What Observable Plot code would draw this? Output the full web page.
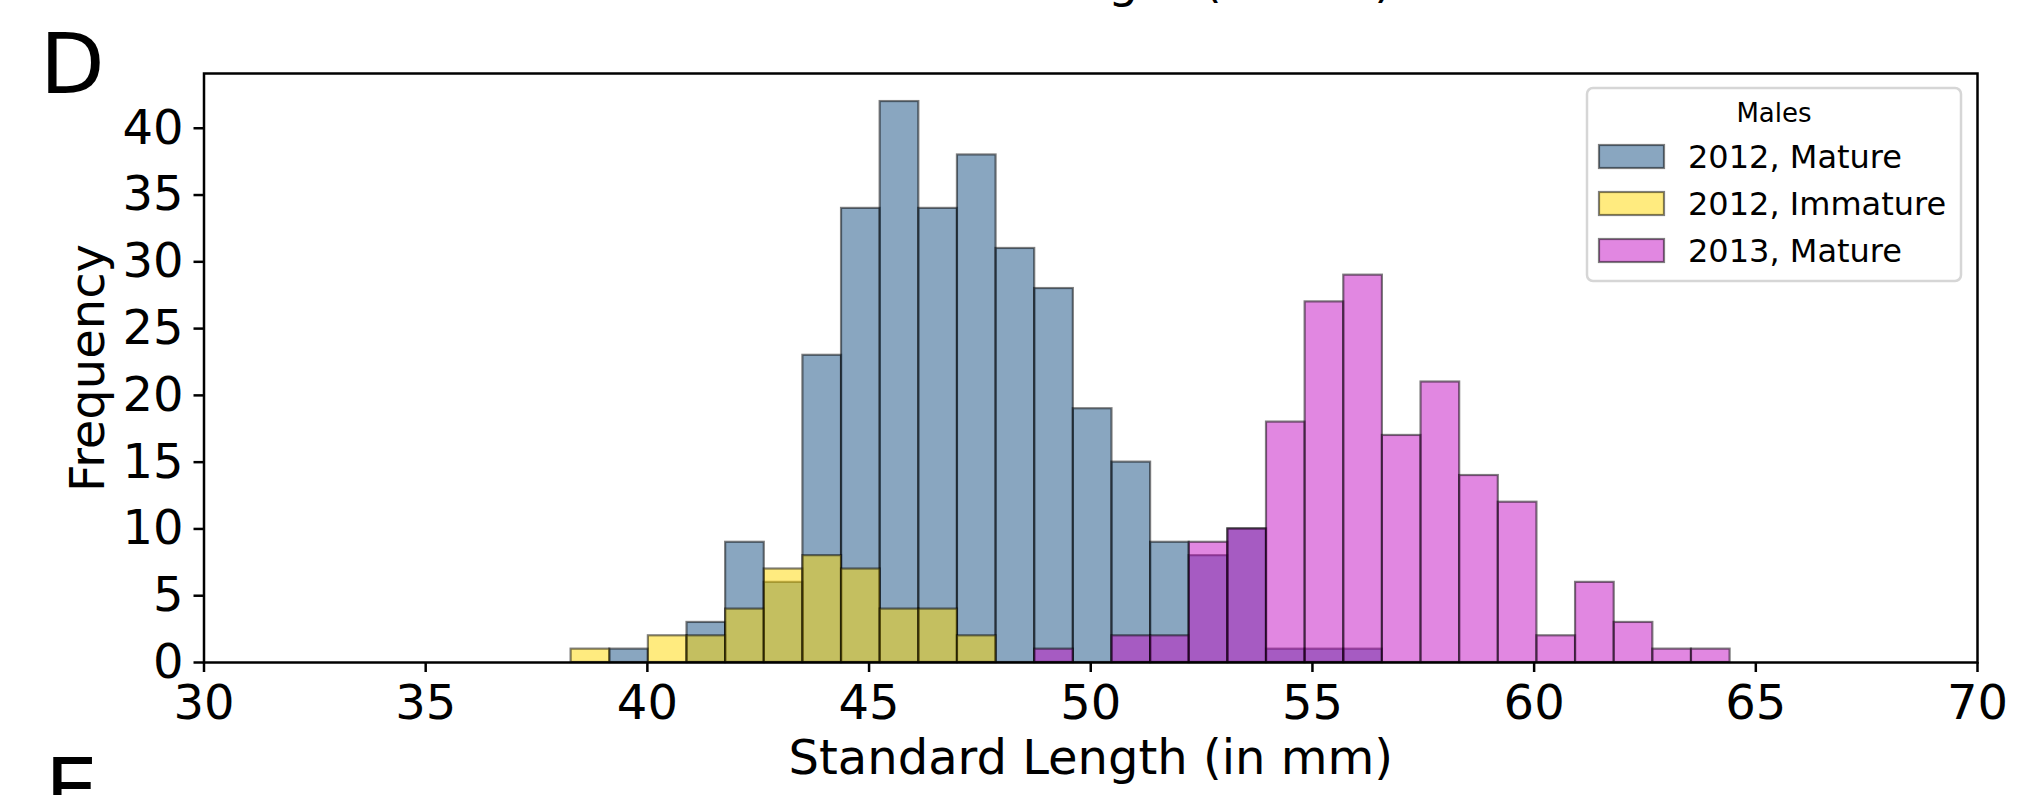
<!DOCTYPE html>
<html>
<head>
<meta charset="utf-8">
<script src="https://cdn.jsdelivr.net/npm/d3@7"></script>
<script src="https://cdn.jsdelivr.net/npm/@observablehq/plot@0.6"></script>
<style>
  html, body { margin: 0; padding: 0; background: #fff; overflow: hidden; }
  #chart svg { display: block; }
</style>
</head>
<body>
<div id="chart"></div>
<script>
// Shared histogram bins (standard length, mm)
const binStart = 38.28;
const binEnd = 64.42;
const binCount = 30;

// Counts per bin for each group of males
const mature2012   = [0,1,0,3,9,6,23,34,42,34,38,31,28,19,15,9,8,10,1,1,1,0,0,0,0,0,0,0,0,0];
const immature2012 = [1,0,2,2,4,7,8,7,4,4,2,0,0,0,0,0,0,0,0,0,0,0,0,0,0,0,0,0,0,0];
const mature2013   = [0,0,0,0,0,0,0,0,0,0,0,0,1,0,2,2,9,10,18,27,29,17,21,14,12,2,6,3,1,1];

const seriesNames  = ["2012, Mature", "2012, Immature", "2013, Mature"];
const seriesCounts = [mature2012, immature2012, mature2013];
const seriesColors = ["#134d82", "#ffd700", "#c30fc3"];

const xTicks = [30, 35, 40, 45, 50, 55, 60, 65, 70];
const yTicks = [0, 5, 10, 15, 20, 25, 30, 35, 40];

const legendTitle = "Males";
const xLabel = "Standard Length (in mm)";
const yLabel = "Frequency";
const panelLabel = "D";
const nextPanelLabel = "E";

const binWidth = (binEnd - binStart) / binCount;
const FONT = "DejaVu Sans, sans-serif";

const barMarks = seriesCounts.map((counts, s) => {
  const rows = counts
    .map((count, i) => ({count, x1: binStart + i * binWidth, x2: binStart + (i + 1) * binWidth}))
    .filter(d => d.count > 0);
  return Plot.rect(rows, {
    x1: "x1", x2: "x2", y1: 0, y2: "count",
    fill: seriesColors[s], fillOpacity: 0.5,
    stroke: "black", strokeOpacity: 0.5, strokeWidth: 2.2
  });
});

const chart = Plot.plot({
  width: 2019,
  height: 795,
  marginLeft: 203.5,
  marginRight: 42,
  marginTop: 73,
  marginBottom: 133,
  style: {fontFamily: FONT, background: "white", color: "black"},
  x: {domain: [30, 70]},
  y: {domain: [0, 44.1]},
  marks: [
    ...barMarks,
    Plot.frame({stroke: "black", strokeWidth: 2.5}),
    Plot.axisX({ticks: xTicks, tickSize: 10, tickPadding: 12, fontSize: 48, strokeWidth: 2.5, label: null, tickFormat: d => String(d)}),
    Plot.axisY({ticks: yTicks, tickSize: 10, tickPadding: 10.5, fontSize: 48, strokeWidth: 2.5, label: null, tickFormat: d => String(d)}),
    // axis titles
    Plot.text([xLabel], {frameAnchor: "bottom", dy: 96, fontSize: 48, textAnchor: "middle", text: d => d, lineAnchor: "middle"}),
    Plot.text([yLabel], {frameAnchor: "left", dx: -115, rotate: -90, fontSize: 48, textAnchor: "middle", text: d => d, lineAnchor: "middle"}),
    // panel letters
    Plot.text([panelLabel], {frameAnchor: "top-left", dx: -164, dy: -6.9, fontSize: 84, textAnchor: "start", text: d => d, lineAnchor: "middle"}),
    Plot.text([nextPanelLabel], {frameAnchor: "bottom-left", dx: -159, dy: 129, fontSize: 84, textAnchor: "start", text: d => d, lineAnchor: "middle"}),
    // x title of the panel above, mostly outside the figure
    Plot.text([xLabel], {frameAnchor: "top", dy: -91.4, fontSize: 48, textAnchor: "middle", text: d => d, lineAnchor: "middle"})
  ]
});

document.getElementById("chart").appendChild(chart);

// Legend box in the upper right corner of the axes
const svg = d3.select(chart);
const lg = svg.append("g").attr("font-family", FONT).attr("text-anchor", "start");
lg.append("rect")
  .attr("x", 1587).attr("y", 88).attr("width", 374).attr("height", 193)
  .attr("rx", 6).attr("fill", "white").attr("fill-opacity", 0.8)
  .attr("stroke", "#d6d6d6").attr("stroke-width", 2.5);
lg.append("text")
  .attr("x", 1774).attr("y", 122).attr("text-anchor", "middle")
  .attr("font-size", 26).text(legendTitle);
seriesNames.forEach((name, i) => {
  const y0 = 145 + i * 47;
  lg.append("rect")
    .attr("x", 1599).attr("y", y0).attr("width", 65).attr("height", 23)
    .attr("fill", seriesColors[i]).attr("fill-opacity", 0.5)
    .attr("stroke", "black").attr("stroke-opacity", 0.5).attr("stroke-width", 2.2);
  lg.append("text")
    .attr("x", 1688).attr("y", y0 + 23).attr("text-anchor", "start")
    .attr("font-size", 32).text(name);
});
</script>
</body>
</html>
